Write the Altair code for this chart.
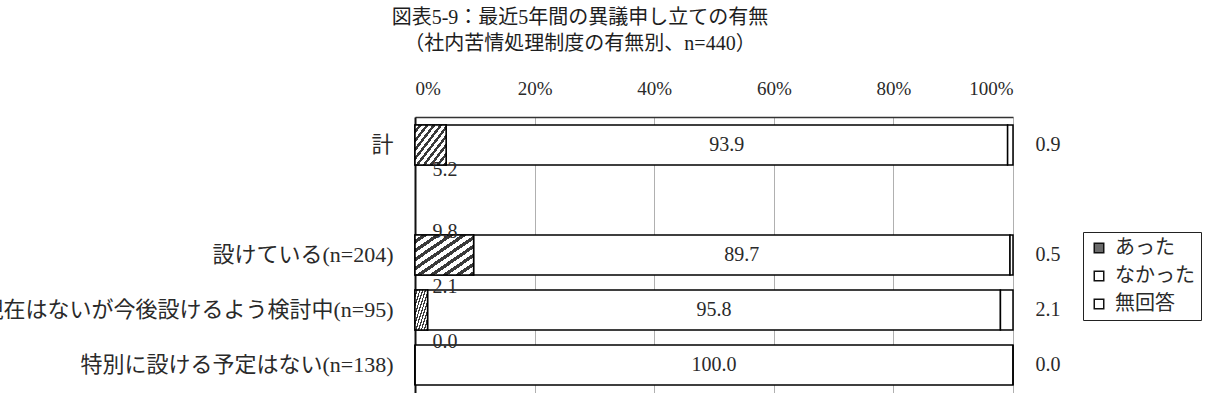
import altair as alt
import pandas as pd

# ---- data ----
categories = ["計", "設けている(n=204)", "現在はないが今後設けるよう検討中(n=95)", "特別に設ける予定はない(n=138)"]
atta = [5.2, 9.8, 2.1, 0.0]
nakatta = [93.9, 89.7, 95.8, 100.0]
mukaito = [0.9, 0.5, 2.1, 0.0]
series = ["あった", "なかった", "無回答"]
x_ticks = [0, 20, 40, 60, 80, 100]
title_lines = ["図表5-9：最近5年間の異議申し立ての有無", "（社内苦情処理制度の有無別、n=440）"]

blank = " "
y_domain = [categories[0], blank] + categories[1:]

df = pd.DataFrame({"cat": categories, "あった": atta, "なかった": nakatta, "無回答": mukaito})

FONT = "'Liberation Serif', 'Noto Sans CJK JP', serif"
TXT = "#2a2a2a"

# hatch gradient (diagonal stripes)
n_str = 9
stops = []
for i in range(n_str):
    o0 = i / n_str
    o1 = (i + 0.55) / n_str
    o2 = (i + 1) / n_str
    stops += [
        {"offset": o0, "color": "#ffffff"},
        {"offset": o1, "color": "#ffffff"},
        {"offset": o1, "color": "#3a3a3a"},
        {"offset": o2, "color": "#3a3a3a"},
    ]
hatch = {"gradient": "linear", "x1": 0, "y1": 0, "x2": 1, "y2": 1, "stops": stops}

y_enc = alt.Y(
    "cat:N",
    scale=alt.Scale(domain=y_domain, paddingInner=0.27, paddingOuter=0.145),
    axis=alt.Axis(
        title=None, ticks=False, labelPadding=22, labelLimit=2000,
        labelFontSize=22, labelFont=FONT, labelColor=TXT,
        domainColor="#111111", domainWidth=2,
    ),
)

base = alt.Chart(df)

stacked = base.transform_fold(series, as_=["series", "value"]).transform_calculate(
    idx="indexof(" + str(series) + ", datum.series)"
).mark_bar(stroke="black", strokeWidth=1.5).encode(
    y=y_enc,
    x=alt.X(
        "value:Q", stack="zero",
        scale=alt.Scale(domain=[0, 100], nice=False),
        axis=alt.Axis(
            orient="top", values=x_ticks, labelExpr="datum.value + '%'", title=None,
            ticks=False, labelPadding=19, labelFontSize=19, labelFont=FONT, labelColor=TXT,
            domainColor="#333333", domainWidth=1.5, grid=True, gridColor="#b0b0b0", gridWidth=1,
        ),
    ),
    order=alt.Order("idx:Q"),
    fill=alt.Fill(
        "series:N",
        scale=alt.Scale(domain=series, range=["#6a6a6a", "#ffffff", "#ffffff"]),
        legend=alt.Legend(
            title=None, orient="none", legendX=668, legendY=115,
            strokeColor="#222222", fillColor="#ffffff", padding=6,
            symbolType="square", symbolSize=90, symbolStrokeColor="#111111", symbolStrokeWidth=1.5,
            labelFontSize=20, labelFont=FONT, labelColor=TXT, rowPadding=8, labelOffset=6,
        ),
    ),
)

hatch_layer = base.transform_calculate(z="0").mark_bar(
    fill=hatch, stroke="black", strokeWidth=1.5
).encode(
    y=alt.Y("cat:N"),
    x=alt.X("z:Q"),
    x2=alt.X2("あった:Q"),
)

mid_labels = base.transform_calculate(
    mid="datum['あった'] + datum['なかった'] / 2"
).mark_text(font=FONT, fontSize=20, color=TXT, align="center", baseline="middle").encode(
    y=alt.Y("cat:N"),
    x=alt.X("mid:Q"),
    text=alt.Text("なかった:Q", format=".1f"),
)

right_labels = base.transform_calculate(full="100").mark_text(
    font=FONT, fontSize=20, color=TXT, align="center", baseline="middle", dx=35
).encode(
    y=alt.Y("cat:N"),
    x=alt.X("full:Q"),
    text=alt.Text("無回答:Q", format=".1f"),
)

left_below = base.transform_filter(alt.datum.cat == categories[0]).transform_calculate(
    z="0"
).mark_text(font=FONT, fontSize=20, color=TXT, align="center", baseline="middle", dx=30, dy=25).encode(
    y=alt.Y("cat:N"),
    x=alt.X("z:Q"),
    text=alt.Text("あった:Q", format=".1f"),
)

left_above = base.transform_filter(alt.datum.cat != categories[0]).transform_calculate(
    z="0"
).mark_text(font=FONT, fontSize=20, color=TXT, align="center", baseline="middle", dx=30, dy=-23).encode(
    y=alt.Y("cat:N"),
    x=alt.X("z:Q"),
    text=alt.Text("あった:Q", format=".1f"),
)

chart = alt.layer(
    stacked, hatch_layer, mid_labels, right_labels, left_below, left_above
).properties(
    width=598,
    height=276,
    title=alt.Title(
        text=title_lines, fontSize=20, font=FONT, color="#1e1e1e", fontWeight="normal",
        anchor="middle", dx=-134, lineHeight=26, offset=25,
    ),
    autosize=alt.AutoSizeParams(type="none"),
    padding={"left": 415, "top": 117, "right": 192, "bottom": 0},
).configure_view(strokeWidth=0)

chart.save("out.html", embed_options={"renderer": "svg", "actions": False})
